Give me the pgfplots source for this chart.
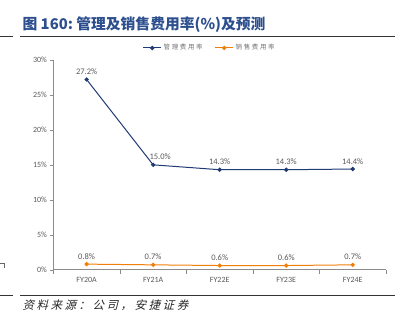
\documentclass[border=0pt]{standalone}
\usepackage{pgfplots}
\pgfplotsset{compat=1.18}
\usepackage{fontspec}
\setmainfont{Carlito}
\newfontfamily\cjk{Noto Sans CJK SC}
\newfontfamily\cjkleg[LetterSpace=25]{Noto Sans CJK SC}
\newfontfamily\cjkit[FakeSlant=0.25,LetterSpace=22]{Noto Sans CJK SC}
\definecolor{navy}{HTML}{1F3B73}
\definecolor{orng}{HTML}{F07F09}
\definecolor{ttl}{HTML}{2E4F8E}
\definecolor{lbl}{HTML}{595959}
\begin{document}
\begin{tikzpicture}[x=1pt,y=1pt]
\path (0,0) rectangle (406,326);
% title
\node[anchor=west,text=ttl,font=\cjk\bfseries\fontsize{14.8}{17}\selectfont,inner sep=0pt] at (22,301) {图 160:\ 管理及销售费用率(\%)及预测};
\draw[line width=0.8pt,black!80] (20,290) -- (395,290);
\draw[line width=0.8pt,black!80] (0,290) -- (13,290);
\draw[line width=0.8pt,black!80] (20,30) -- (395,30);
\draw[line width=0.8pt,black!80] (0,30) -- (13,30);
\draw[black!60,line width=0.4pt] (0,63) -- (4,63) -- (4,58);
\node[anchor=west,font=\cjkit\fontsize{11.5}{13}\selectfont,text=black!85,inner sep=0pt] at (22,20) {资料来源：公司，安捷证券};
\begin{axis}[
  at={(53pt,56pt)}, anchor=south west,
  width=333pt, height=210pt, scale only axis,
  xmin=-0.5, xmax=4.5, ymin=0, ymax=30,
  xtick={0,1,2,3,4},
  xticklabels={FY20A,FY21A,FY22E,FY23E,FY24E},
  minor xtick={-0.5,0.5,1.5,2.5,3.5,4.5},
  ytick={0,5,10,15,20,25,30},
  yticklabel={\pgfmathprintnumber{\tick}\%},
  axis x line*=bottom, axis y line*=left,
  axis line style={black!45,line width=0.5pt},
  x axis line style={-}, y axis line style={-},
  major x tick style={draw=none},
  minor x tick style={black!45},
  y tick style={black!45},
  tick align=outside,
  major tick length=3pt, minor tick length=4pt,
  ticklabel style={font=\fontsize{8}{9}\selectfont, text=lbl},
  xticklabel style={yshift=-1pt},
  /pgf/number format/assume math mode=true,
  legend style={at={(0.47,1.057)}, anchor=center, draw=none, fill=none,
    legend columns=2, font=\cjkleg\fontsize{6.5}{8}\selectfont, text=black!55,
    /tikz/every even column/.append style={column sep=10pt}},
  legend image code/.code={\draw[#1] (0pt,0pt) -- (18pt,0pt); \fill[#1] (9pt,0pt) circle (1.6pt);},
  nodes near coords,
  point meta=explicit symbolic,
  every node near coord/.append style={font=\fontsize{8.5}{10}\selectfont, text=lbl, yshift=1pt},
]
\addplot[navy, line width=1pt, mark=*, mark size=1.6pt,
  coordinate style/.condition={\coordindex==1}{xshift=7pt}] table[meta=l] {
x y l
0 27.2 27.2\%
1 15.0 15.0\%
2 14.3 14.3\%
3 14.3 14.3\%
4 14.4 14.4\%
};
\addlegendentry{管理费用率}
\addplot[orng, line width=1pt, mark=*, mark size=1.6pt] table[meta=l] {
x y l
0 0.8 0.8\%
1 0.7 0.7\%
2 0.6 0.6\%
3 0.6 0.6\%
4 0.7 0.7\%
};
\addlegendentry{销售费用率}
\end{axis}
\end{tikzpicture}
\end{document}
